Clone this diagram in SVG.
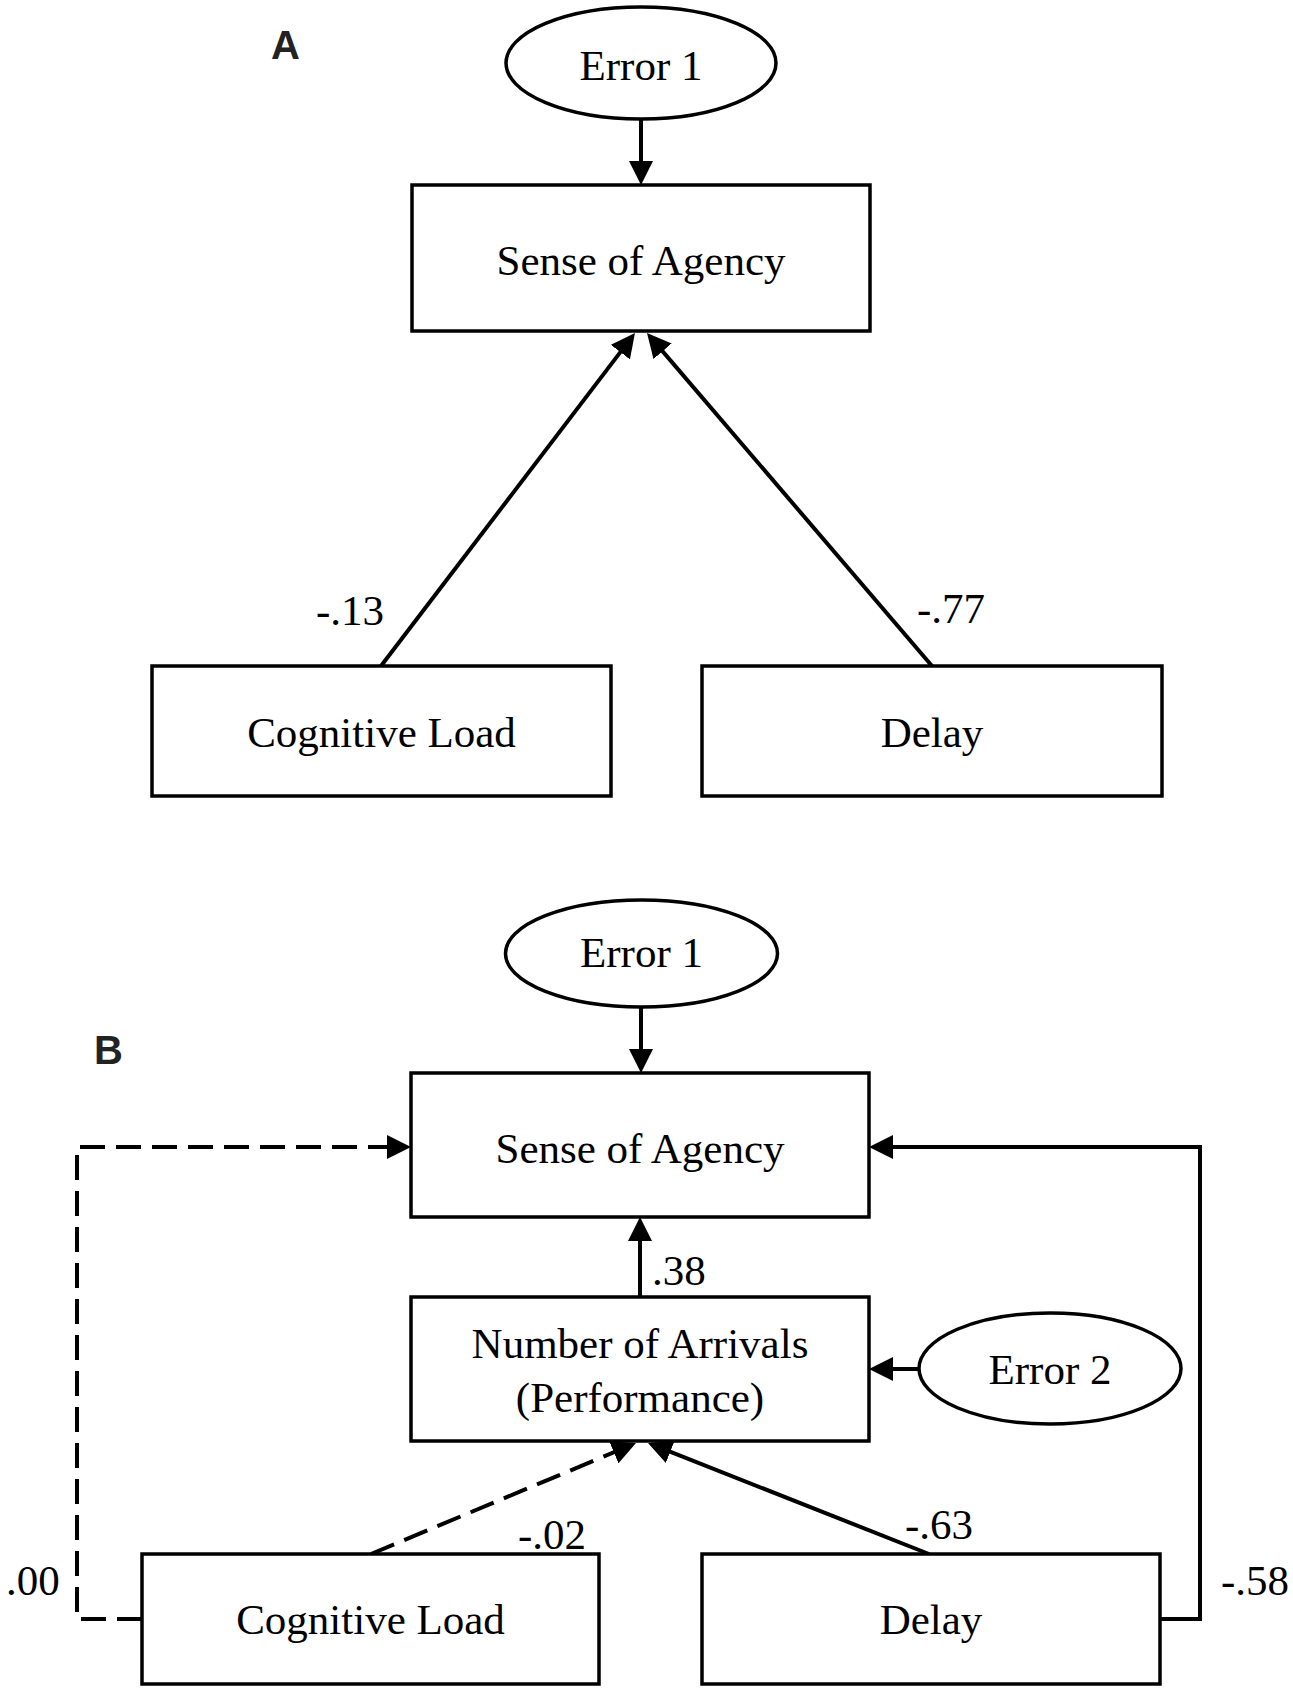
<svg xmlns="http://www.w3.org/2000/svg" width="1293" height="1693" viewBox="0 0 1293 1693">
<style>
.box{fill:#fff;stroke:#000;stroke-width:3.5}
.ell{fill:#fff;stroke:#000;stroke-width:3.5}
.t{font-family:"Liberation Serif","Times New Roman",serif;font-size:43px;fill:#000}
.c{text-anchor:middle}
.pl{font-family:"Liberation Sans",Arial,sans-serif;font-size:40px;font-weight:bold;fill:#222}
.ln{fill:none;stroke:#000;stroke-width:4}
.dash{stroke-dasharray:25 11}
</style>
<defs>
<marker id="ah" markerUnits="userSpaceOnUse" markerWidth="24" markerHeight="24" viewBox="0 0 24 24" refX="16" refY="12" orient="auto">
<path d="M0,0 L24,12 L0,24 z" fill="#000"/>
</marker>
</defs>
<rect width="1293" height="1693" fill="#fff"/>
<text class="pl" x="271" y="59">A</text>
<text class="pl" x="94" y="1064">B</text>
<g id="connectors">
<line class="ln" x1="641" y1="119" x2="641" y2="177" marker-end="url(#ah)"/>
<line class="ln" x1="381" y1="666" x2="630.1" y2="339.4" marker-end="url(#ah)"/>
<line class="ln" x1="932" y1="666" x2="652.2" y2="339.1" marker-end="url(#ah)"/>
<line class="ln" x1="641" y1="1007" x2="641" y2="1065" marker-end="url(#ah)"/>
<line class="ln" x1="640" y1="1297" x2="640" y2="1225" marker-end="url(#ah)"/>
<line class="ln" x1="919" y1="1369" x2="877" y2="1369" marker-end="url(#ah)"/>
<path class="ln dash" d="M142,1619 H77 V1147 H403" marker-end="url(#ah)"/>
<path class="ln" d="M1159,1619 H1200 V1147 H877" marker-end="url(#ah)"/>
<line class="ln dash" x1="371" y1="1554" x2="628.6" y2="1446.1" marker-end="url(#ah)"/>
<line class="ln" x1="929" y1="1554" x2="655.4" y2="1445.9" marker-end="url(#ah)"/>
<text class="t" x="316" y="625">-.13</text>
<text class="t" x="917" y="623">-.77</text>
<text class="t" x="652" y="1285">.38</text>
<text class="t" x="518" y="1549">-.02</text>
<text class="t" x="905" y="1539">-.63</text>
<text class="t" x="6" y="1595">.00</text>
<text class="t" x="1221" y="1595">-.58</text>
</g>
<g id="a-error1">
<ellipse class="ell" cx="641" cy="63" rx="135" ry="56"/>
<text class="t c" x="641" y="80">Error 1</text>
</g>
<g id="a-sense">
<rect class="box" x="412" y="185" width="458" height="146"/>
<text class="t c" x="641" y="275">Sense of Agency</text>
</g>
<g id="a-cogload">
<rect class="box" x="152" y="666" width="459" height="130"/>
<text class="t c" x="381.5" y="747">Cognitive Load</text>
</g>
<g id="a-delay">
<rect class="box" x="702" y="666" width="460" height="130"/>
<text class="t c" x="932" y="747">Delay</text>
</g>
<g id="b-error1">
<ellipse class="ell" cx="641.5" cy="953.5" rx="136" ry="53.5"/>
<text class="t c" x="641.5" y="967">Error 1</text>
</g>
<g id="b-sense">
<rect class="box" x="411" y="1073" width="458" height="144"/>
<text class="t c" x="640" y="1163">Sense of Agency</text>
</g>
<g id="b-arrivals">
<rect class="box" x="411" y="1297" width="458" height="144"/>
<text class="t c" x="640" y="1358">Number of Arrivals</text>
<text class="t c" x="640" y="1412">(Performance)</text>
</g>
<g id="b-error2">
<ellipse class="ell" cx="1050" cy="1368.5" rx="131" ry="55.5"/>
<text class="t c" x="1050" y="1384">Error 2</text>
</g>
<g id="b-cogload">
<rect class="box" x="142" y="1554" width="457" height="130"/>
<text class="t c" x="370.5" y="1634">Cognitive Load</text>
</g>
<g id="b-delay">
<rect class="box" x="702" y="1554" width="458" height="130"/>
<text class="t c" x="931" y="1634">Delay</text>
</g>
</svg>
